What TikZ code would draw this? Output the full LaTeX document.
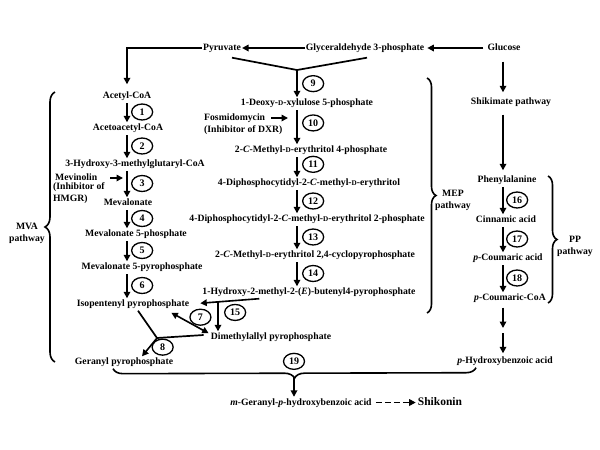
\documentclass[tikz,border=0pt]{standalone}
\usepackage{fontspec}
\setmainfont{Liberation Serif}
\usetikzlibrary{arrows.meta,positioning,calc,shapes.geometric,decorations.pathreplacing}
\newcommand{\smD}{{\fontsize{7.2}{8}\selectfont D}}
\tikzset{
  chem/.style={font=\fontsize{9.7}{11}\selectfont\bfseries, inner sep=1pt, text height=7pt, text depth=2pt},
  lab/.style={font=\fontsize{9.7}{12}\selectfont\bfseries, inner sep=1pt, align=center},
  enz/.style={ellipse, draw, line width=1.3pt, minimum width=21pt, minimum height=16pt, inner sep=0pt, font=\fontsize{10}{11}\selectfont\bfseries},
  seg/.style={line width=1.7pt},
  arr/.style={line width=1.6pt, -{Triangle[length=6.5pt,width=6.5pt]}},
  colarr/.style={arr, shorten <=1.5pt},
  brc/.style={line width=1.6pt, decorate, decoration={brace, amplitude=#1}},
  brc/.default=10pt
}
\begin{document}
\begin{tikzpicture}[x=1pt,y=-1pt]
  \useasboundingbox (0,0) rectangle (600,450);
  % top row
  \node[chem] (pyr) at (222,48) {Pyruvate};
  \node[chem] (gap) at (365,48) {Glyceraldehyde 3-phosphate};
  \node[chem] (glc) at (504,48) {Glucose};
  % MVA pathway
  \node[chem] (acoa) at (127,96) {Acetyl-CoA};
  \node[chem] (aacoa) at (128,128) {Acetoacetyl-CoA};
  \node[chem] (hmg) at (135,164) {3-Hydroxy-3-methylglutaryl-CoA};
  \node[chem] (mev) at (128,203) {Mevalonate};
  \node[chem] (mvp) at (136,234) {Mevalonate 5-phosphate};
  \node[chem] (mvpp) at (142,267) {Mevalonate 5-pyrophosphate};
  \node[chem] (ipp) at (133,304) {Isopentenyl pyrophosphate};
  \node[chem] (dmapp) at (271,337) {Dimethylallyl pyrophosphate};
  \node[chem] (gpp) at (124,362) {Geranyl pyrophosphate};
  \node[chem, anchor=west] (mevia) at (54,178) {Mevinolin};
  \node[lab, align=left, anchor=west] (mevib) at (52,193) {(Inhibitor of\\HMGR)};
  % MEP pathway
  \node[chem] (dxp) at (307,103) {1-Deoxy-\smD-xylulose 5-phosphate};
  \node[chem, anchor=west] (fosa) at (203,118) {Fosmidomycin};
  \node[chem, anchor=west] (fosb) at (203,130) {(Inhibitor of DXR)};
  \node[chem] (mep) at (311,150) {2-\textit{C}-Methyl-\smD-erythritol 4-phosphate};
  \node[chem] (cdpme) at (309,183) {4-Diphosphocytidyl-2-\textit{C}-methyl-\smD-erythritol};
  \node[chem] (cdpmep) at (307,219) {4-Diphosphocytidyl-2-\textit{C}-methyl-\smD-erythritol 2-phosphate};
  \node[chem] (mecpp) at (315,255) {2-\textit{C}-Methyl-\smD-erythritol 2,4-cyclopyrophosphate};
  \node[chem] (hmbpp) at (309,292) {1-Hydroxy-2-methyl-2-(\textit{E})-butenyl4-pyrophosphate};
  % PP pathway
  \node[chem] (shik) at (511,102) {Shikimate pathway};
  \node[chem] (phe) at (507,180) {Phenylalanine};
  \node[chem] (cin) at (506,220) {Cinnamic acid};
  \node[chem] (pcou) at (508,258) {\textit{p}-Coumaric acid};
  \node[chem] (pcoa) at (510,298) {\textit{p}-Coumaric-CoA};
  \node[chem] (phba) at (505,361) {\textit{p}-Hydroxybenzoic acid};
  % products
  \node[chem] (mgh) at (301,402.5) {\textit{m}-Geranyl-\textit{p}-hydroxybenzoic acid};
  \node[chem, font=\fontsize{11.5}{13}\selectfont\bfseries] (shk) at (440,402.5) {Shikonin};
  % pathway labels
  \node[lab] (mvalab) at (27,233) {MVA\\pathway};
  \node[lab] (meplab) at (453,200) {MEP\\pathway};
  \node[lab] (pplab) at (575,246) {PP\\pathway};

  \coordinate (mvaX) at (127,0);
  \coordinate (mepX) at (297,0);
  \coordinate (ppX) at (503,0);
  \coordinate (j9) at (297,70);
  \coordinate (j8) at (157,338);
  \coordinate (hmbout) at ($(hmbpp.south west)+(58,1)$);
  \coordinate (j15) at (218,302.3);
  \coordinate (jpp) at (503,330.5);
  \coordinate (j19) at (294,378);

  \begin{scope}
    \draw[arr, shorten <=3pt, shorten >=2pt] (glc) -- (gap);
    \draw[arr] (gap) -- (pyr);
    \draw[arr, shorten >=6pt] (pyr.west) -| (acoa.north);
    \draw[seg] ($(pyr.south)+(10,4)$) -- (j9) -- ($(gap.south)+(2,4)$);
    \draw[arr] (j9) -- node[enz, right=5pt] (e9) {9} (j9 |- dxp.north);
    % MVA steps
    \draw[colarr] (acoa.south -| mvaX) -- node[enz, right=4pt] (e1) {1} (aacoa.north -| mvaX);
    \draw[colarr] (aacoa.south -| mvaX) -- node[enz, right=4pt] (e2) {2} (hmg.north -| mvaX);
    \draw[colarr] (hmg.south -| mvaX) -- node[enz, right=4pt] (e3) {3} (mev.north -| mvaX);
    \draw[colarr] (mev.south -| mvaX) -- node[enz, right=4pt] (e4) {4} (mvp.north -| mvaX);
    \draw[colarr] (mvp.south -| mvaX) -- node[enz, right=4pt] (e5) {5} (mvpp.north -| mvaX);
    \draw[colarr] (mvpp.south -| mvaX) -- node[enz, right=4pt] (e6) {6} (ipp.north -| mvaX);
    \draw[arr, shorten <=12pt, shorten >=4pt] (mevia.east) -- (mevia.east -| mvaX);
    % MEP steps
    \draw[colarr] (dxp.south -| mepX) -- node[enz, right=5pt, pos=0.4] (e10) {10} (mep.north -| mepX);
    \draw[arr, shorten <=5pt, shorten >=9pt] (fosa.east) -- (fosa.east -| mepX);
    \draw[colarr] (mep.south -| mepX) -- node[enz, right=5pt, pos=0.4] (e11) {11} (cdpme.north -| mepX);
    \draw[colarr] (cdpme.south -| mepX) -- node[enz, right=5pt] (e12) {12} (cdpmep.north -| mepX);
    \draw[colarr] (cdpmep.south -| mepX) -- node[enz, right=5pt] (e13) {13} (mecpp.north -| mepX);
    \draw[colarr] (mecpp.south -| mepX) -- node[enz, right=5pt] (e14) {14} (hmbpp.north -| mepX);
    % IPP, DMAPP, GPP
    \draw[arr, shorten >=10pt] (hmbout) -- (ipp.east);
    \draw[arr] (j15) -- node[enz, right=6pt, pos=0.35] (e15) {15} (j15 |- dmapp.north);
    \draw[line width=1.6pt, {Triangle[length=6.5pt,width=6.5pt]}-{Triangle[length=6.5pt,width=6.5pt]}]
      ($(ipp.south east)+(-19,3)$) -- node[enz, pos=0.55, above right=1pt] (e7) {7} ($(dmapp.north west)+(-1,2)$);
    \draw[seg] ($(ipp.south)+(5,1)$) -- (j8) -- ($(dmapp.west)+(-6,-2)$);
    \draw[arr] (j8) -- node[enz, right=2pt] (e8) {8} ($(gpp.north)+(18,0)$);
    % PP steps
    \draw[arr, shorten <=8pt, shorten >=4pt] (glc.south -| ppX) -- (shik.north -| ppX);
    \draw[arr, shorten <=7pt, shorten >=4pt] (shik.south -| ppX) -- (phe.north -| ppX);
    \draw[colarr] (phe.south -| ppX) -- node[enz, right=3pt] (e16) {16} (cin.north -| ppX);
    \draw[colarr] (cin.south -| ppX) -- node[enz, right=3pt] (e17) {17} (pcou.north -| ppX);
    \draw[colarr] (pcou.south -| ppX) -- node[enz, right=3pt] (e18) {18} (pcoa.north -| ppX);
    \draw[arr, shorten <=4pt, shorten >=2.5pt] (pcoa.south -| ppX) -- (jpp);
    \draw[arr, shorten <=2.5pt, shorten >=2pt] (jpp) -- (phba.north -| ppX);
    % condensation
    \draw[brc=10pt] ($(phba.south west)+(20,1)$) -- ($(gpp.south)+(-11,1)$);
    \node[enz, above=8pt of j19] (e19) {19};
    \draw[arr] (j19) -- (j19 |- mgh.north);
    \draw[arr, dash pattern=on 6pt off 3pt, shorten <=3pt, shorten >=1pt] (mgh) -- (shk);
    % braces
    \draw[brc=10pt] (55,362) -- (55,92);
    \draw[brc=9pt] (427,78) -- (427,313);
    \draw[brc=9pt] (548,176) -- (548,303);
  \end{scope}
\end{tikzpicture}
\end{document}
